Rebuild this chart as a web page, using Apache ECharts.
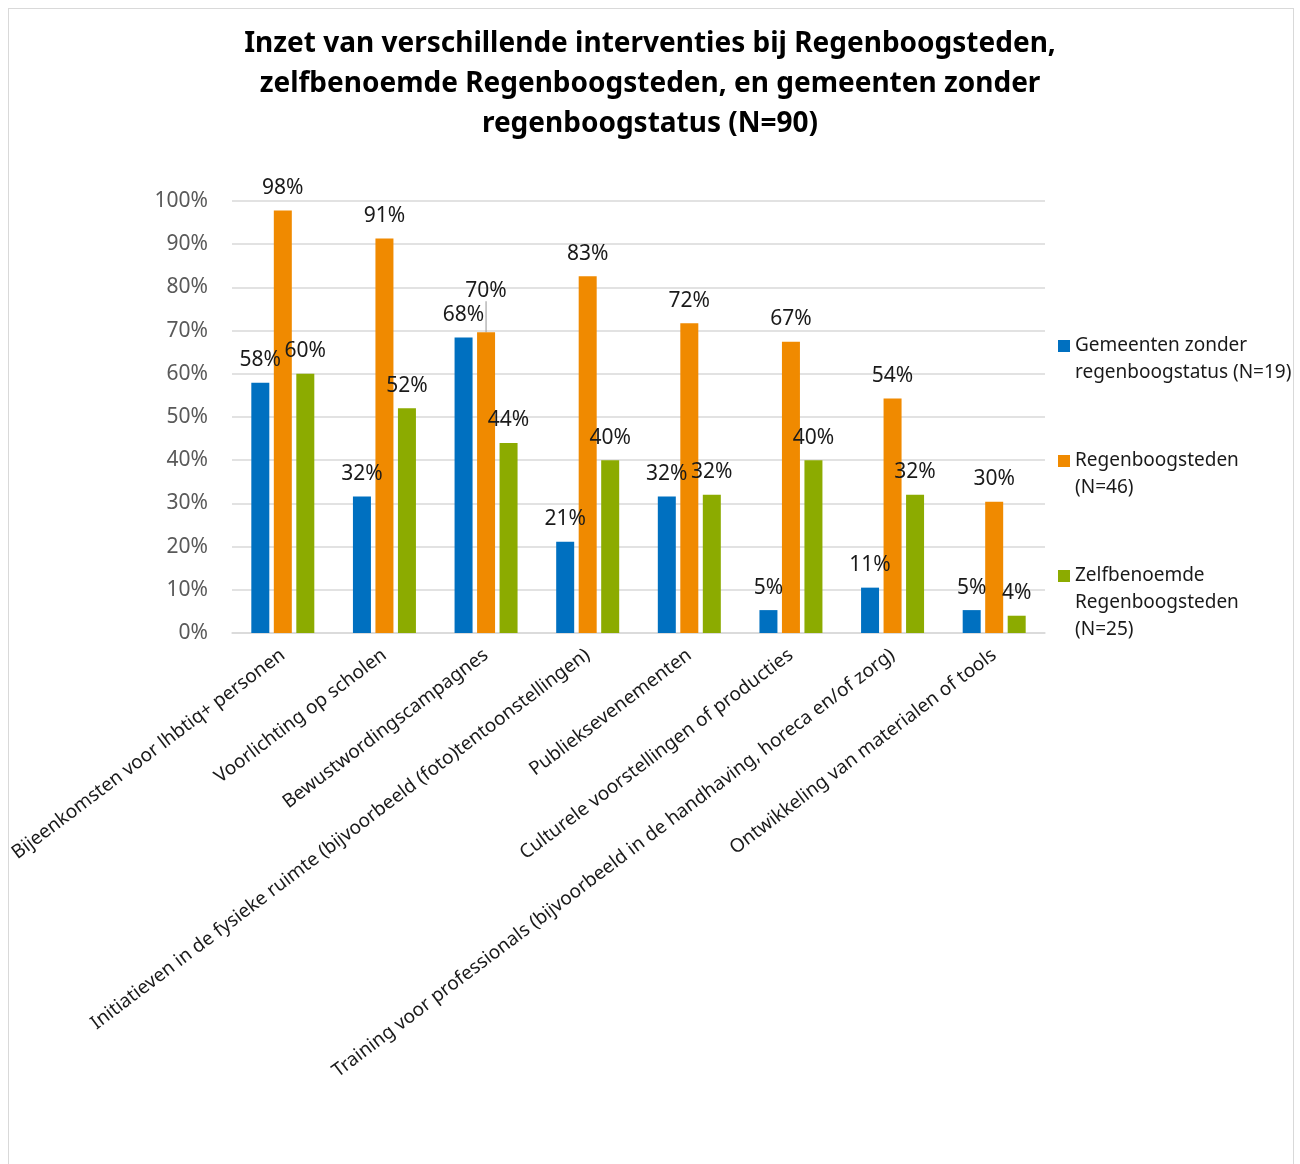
<!DOCTYPE html>
<html>
<head>
<meta charset="utf-8">
<script src="https://cdn.jsdelivr.net/npm/echarts@6/dist/echarts.min.js"></script>
<style>
  html, body { margin: 0; padding: 0; background: #fff; }
  #frame { position: absolute; left: 8px; top: 8px; width: 1286px; height: 1170px; border: 1px solid #d9d9d9; box-sizing: border-box; }
  #chart { position: absolute; left: 0; top: 0; width: 1300px; height: 1164px; }
</style>
</head>
<body>
<div id="frame"></div>
<div id="chart"></div>
<script>
const titleText = 'Inzet van verschillende interventies bij Regenboogsteden,\nzelfbenoemde Regenboogsteden, en gemeenten zonder\nregenboogstatus (N=90)';

const categories = [
  'Bijeenkomsten voor lhbtiq+ personen',
  'Voorlichting op scholen',
  'Bewustwordingscampagnes',
  'Initiatieven in de fysieke ruimte (bijvoorbeeld (foto)tentoonstellingen)',
  'Publieksevenementen',
  'Culturele voorstellingen of producties',
  'Training voor professionals (bijvoorbeeld in de handhaving, horeca en/of zorg)',
  'Ontwikkeling van materialen of tools'
];

const seriesNames = [
  'Gemeenten zonder regenboogstatus (N=19)',
  'Regenboogsteden (N=46)',
  'Zelfbenoemde Regenboogsteden (N=25)'
];
const legendLabels = [
  'Gemeenten zonder\nregenboogstatus (N=19)',
  'Regenboogsteden\n(N=46)',
  'Zelfbenoemde\nRegenboogsteden\n(N=25)'
];

const zonderStatus = [57.9, 31.6, 68.4, 21.1, 31.6, 5.3, 10.5, 5.3];
const regenboogsteden = [97.8, 91.3, 69.6, 82.6, 71.7, 67.4, 54.3, 30.4];
const zelfbenoemd = [60, 52, 44, 40, 32, 40, 32, 4];

const yTicks = [0, 10, 20, 30, 40, 50, 60, 70, 80, 90, 100];

const colors = ['#0070c0', '#f08a00', '#8cab00'];
const FONT = '"Noto Sans", "Open Sans", sans-serif';

const chart = echarts.init(document.getElementById('chart'));

function labelCfg() {
  return {
    show: true,
    position: 'top',
    distance: 12,
    color: '#1a1a1a',
    fontSize: 21,
    fontFamily: FONT,
    formatter: p => Math.round(p.value) + '%'
  };
}

function legendFor(i, firstLineY) {
  const lines = legendLabels[i].split('\n').length;
  const lh = 27;
  // leading blank lines so that the icon (centred on the text block) sits on the first line
  const prefix = '\n'.repeat(lines - 1);
  const blockH = (2 * lines - 1) * lh;
  return {
    left: 1058,
    top: firstLineY - blockH / 2,
    orient: 'vertical',
    padding: 0,
    icon: 'rect',
    itemWidth: 12,
    itemHeight: 12,
    data: [seriesNames[i]],
    selectedMode: false,
    formatter: () => prefix + legendLabels[i],
    textStyle: {
      fontSize: 19,
      lineHeight: lh,
      color: '#1a1a1a',
      fontFamily: FONT
    }
  };
}

const option = {
  backgroundColor: 'transparent',
  animation: false,
  color: colors,
  title: {
    text: titleText,
    left: 'center',
    top: 24,
    padding: 0,
    textStyle: {
      fontSize: 28,
      fontWeight: 'bold',
      lineHeight: 40,
      color: '#000',
      fontFamily: FONT
    }
  },
  legend: [
    legendFor(0, 346),
    legendFor(1, 461),
    legendFor(2, 576)
  ],
  grid: { left: 232, right: 255, top: 201, bottom: 531, containLabel: false },
  xAxis: {
    type: 'category',
    data: categories,
    axisLine: { lineStyle: { color: '#d9d9d9', width: 1.5 } },
    axisTick: { show: false },
    axisLabel: {
      interval: 0,
      rotate: 37,
      margin: 20,
      fontSize: 19,
      color: '#1a1a1a',
      fontFamily: FONT
    }
  },
  yAxis: {
    type: 'value',
    min: yTicks[0],
    max: yTicks[yTicks.length - 1],
    interval: yTicks[1] - yTicks[0],
    axisLine: { show: false },
    axisTick: { show: false },
    splitLine: { lineStyle: { color: '#d9d9d9', width: 1.5 } },
    axisLabel: {
      formatter: '{value}%',
      fontSize: 21,
      color: '#595959',
      margin: 24,
      fontFamily: FONT
    }
  },
  series: [
    {
      name: seriesNames[0], type: 'bar', data: zonderStatus,
      barWidth: 18, barGap: '25%',
      label: labelCfg()
    },
    {
      name: seriesNames[1], type: 'bar',
      data: regenboogsteden.map((v, i) => i === 2
        ? { value: v, labelLine: { show: true, lineStyle: { color: '#a6a6a6', width: 1.2 } } }
        : v),
      barWidth: 18, barGap: '25%',
      label: labelCfg(),
      labelLine: { show: false },
      labelLayout: p => (p.dataIndex === 2 ? { dy: -19 } : {})
    },
    {
      name: seriesNames[2], type: 'bar', data: zelfbenoemd,
      barWidth: 18, barGap: '25%',
      label: labelCfg()
    }
  ]
};

chart.setOption(option);
</script>
</body>
</html>
